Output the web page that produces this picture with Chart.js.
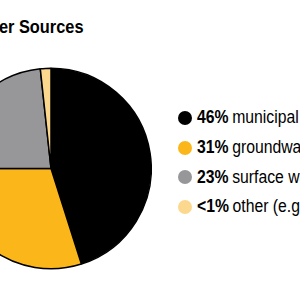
<!DOCTYPE html>
<html>
<head>
<meta charset="utf-8">
<script src="https://cdn.jsdelivr.net/npm/chart.js@4"></script>
<style>
  html, body { margin: 0; padding: 0; width: 300px; height: 300px; overflow: hidden; background: #fff; }
  body { position: relative; font-family: "Liberation Sans", Arial, sans-serif; }
  #titulo { position: absolute; right: 216px; top: 16px; font-size: 18.6px; font-weight: bold; white-space: nowrap; color: #000;
            transform: scaleX(0.88); transform-origin: right center; }
  #caja { position: absolute; left: -50px; top: 0; width: 202px; height: 300px; }
  #leyenda { position: absolute; left: 178px; top: 103px; white-space: nowrap; }
  .fila { height: 29.7px; display: flex; align-items: center; font-size: 17.5px; color: #000; }
  .punto { width: 14px; height: 14px; border-radius: 50%; margin-right: 5px; flex: none; }
  .texto { display: inline-block; transform: scaleX(0.9); transform-origin: left center; }
  .texto b { margin-right: 4px; }
</style>
</head>
<body>
<div id="titulo">Water Sources</div>
<div id="caja"><canvas id="chartFuentes"></canvas></div>
<div id="leyenda"></div>
<script>
// --- DATOS ---
const categorias = ['municipal water', 'groundwater', 'surface water', 'other (e.g., rainwater)'];
const etiquetasPct = ['46%', '31%', '23%', '<1%'];
const valores = [45.1, 29.9, 23.3, 1.7]; // medido sobre el dibujo
const colores = ['#000000', '#fbb61a', '#97979a', '#fbd88d'];

// --- LEYENDA ---
const leyenda = document.getElementById('leyenda');
categorias.forEach((cat, i) => {
    const fila = document.createElement('div');
    fila.className = 'fila';
    fila.innerHTML = `<span class="punto" style="background:${colores[i]}"></span><span class="texto"><b>${etiquetasPct[i].replace('<', '&lt;')}</b>${cat}</span>`;
    leyenda.appendChild(fila);
});

// --- GRÁFICO ---
new Chart(document.getElementById('chartFuentes'), {
    type: 'pie',
    data: {
        labels: categorias,
        datasets: [{
            data: valores,
            backgroundColor: colores,
            borderColor: '#000',
            borderWidth: 1.5
        }]
    },
    options: {
        responsive: true,
        maintainAspectRatio: false,
        animation: false,
        layout: { padding: { top: 67, bottom: 30, left: 0, right: 0 } },
        plugins: { legend: { display: false }, tooltip: { enabled: false } }
    }
});
</script>
</body>
</html>
